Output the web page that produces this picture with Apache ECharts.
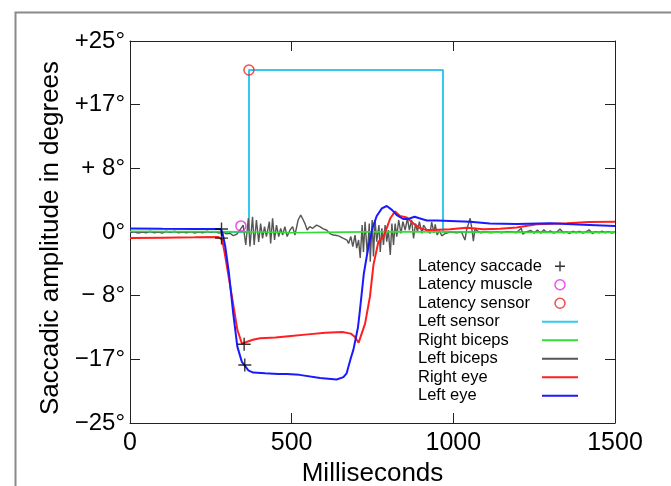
<!DOCTYPE html>
<html>
<head>
<meta charset="utf-8">
<script src="https://cdn.jsdelivr.net/npm/echarts@6/dist/echarts.min.js"></script>
<style>
  html, body { margin: 0; padding: 0; background: #fff; }
  #main { width: 671px; height: 486px; }
</style>
</head>
<body>
<div id="main"></div>
<script>
// tick labels of the y axis, from -25 to +25
var yTickLabels = ['\u221225\u00b0', '\u221217\u00b0', '\u2212 8\u00b0', '0\u00b0', '+ 8\u00b0', '+17\u00b0', '+25\u00b0'];
var xTicks = [0, 500, 1000, 1500];

// [ms, degrees]
var leftSensor = [[0, 0], [368, 0], [368, 21.2], [968, 21.2], [968, 0], [1500, 0]];
var rightBiceps = [[0, 0.1], [150, 0.05], [280, 0.05], [400, 0], [500, -0.1], [600, -0.05], [800, 0.05], [1000, 0], [1250, -0.05], [1500, -0.05]];
var leftBiceps = [
  [0, -0.1], [12, 0.05], [25, -0.15], [38, 0.0], [50, -0.1], [62, 0.1], [75, -0.1], [88, 0.0], [100, -0.15],
  [112, 0.1], [125, -0.05], [138, 0.1], [150, -0.1], [162, 0.0], [175, -0.1], [188, 0.05], [200, -0.15],
  [212, 0.0], [225, -0.1], [238, 0.1], [250, -0.05], [262, 0.05], [275, -0.15], [288, 0.0], [298, -0.25],
  [309, -0.17], [319, -0.48], [330, -0.3], [340, 0.26], [350, 0.9], [358, -1.7], [366, 1.8], [371, -1.9],
  [379, 2.0], [384, -1.7], [391, 1.57], [398, -1.3], [404, 1.1], [410, -0.83], [416, 0.7], [422, -0.6],
  [431, 1.35], [435, -1.5], [441, 1.8], [447, -1.05], [453, 0.9], [460, -0.6], [466, 0.48], [472, -0.4],
  [479, 0.7], [486, -0.6], [495, 0.26], [503, 0.7], [510, -0.4], [520, 1.57], [528, 2.2], [536, 1.57],
  [541, 1.1], [548, 0.26], [556, 0.7], [565, 0.48], [577, 0.9], [587, 0.7], [598, 0.4], [608, 0.26],
  [618, -0.2], [629, -0.4], [640, -0.45], [650, -0.6], [660, -0.83], [671, -1.05], [676, -1.5], [683, -0.6],
  [689, -1.9], [696, -0.4], [701, -2.1], [707, -1.05], [712, -3.4], [718, 0.9], [722, -2.6], [727, 1.35],
  [734, -3.0], [740, 1.1], [743, -3.9], [749, 1.57], [753, -3.2], [758, 1.57], [763, -1.26], [770, 0.9],
  [774, -2.6], [779, 0.48], [784, -1.7], [789, 0.9], [794, -1.26], [799, 0.26], [805, -3.0], [810, 1.1],
  [815, -1.7], [820, 1.1], [825, -0.6], [831, 1.57], [838, -0.17], [844, 1.35], [851, 0.26], [858, 1.8],
  [864, 0.26], [871, 1.57], [877, -0.83], [883, 1.1], [889, 0.04], [895, 1.35], [903, -0.17], [908, 0.9],
  [918, 0.26], [928, -0.17], [933, 1.3], [940, -0.1], [944, 1.0], [950, -0.4], [957, 0.2], [964, -0.5],
  [975, -0.2], [990, 0.0], [1010, -0.1], [1025, 0.0], [1030, -0.2], [1036, -1.05], [1041, 0.26], [1047, 1.1],
  [1052, 1.8], [1057, 0.5], [1062, -1.2], [1067, 0.5], [1072, 0.2], [1085, -0.1], [1100, 0.0], [1115, -0.1],
  [1135, 0.0], [1150, -0.1], [1165, 0.05], [1180, 0.0], [1195, -0.1], [1210, 0.5], [1215, -0.3], [1225, 0.0],
  [1240, 0.2], [1250, -0.15], [1260, 0.25], [1270, -0.15], [1280, 0.3], [1290, -0.1], [1300, 0.15], [1310, -0.15],
  [1320, 0.0], [1330, 0.4], [1340, -0.1], [1350, 0.0], [1360, -0.2], [1370, 0.1], [1380, -0.1], [1390, 0.1],
  [1400, -0.15], [1410, 0.0], [1420, 0.3], [1430, -0.2], [1440, 0.05], [1450, -0.1], [1460, 0.1], [1470, -0.1],
  [1480, 0.05], [1490, -0.15], [1500, 0.0]
];
var rightEye = [
  [0, -0.8], [100, -0.75], [200, -0.7], [272, -0.65], [285, -1.0], [293, -2.8], [312, -7.6], [332, -12.8],
  [346, -14.6], [360, -14.4], [380, -14.1], [402, -13.9], [450, -13.8], [498, -13.6], [550, -13.4], [604, -13.2],
  [657, -13.1], [683, -13.3], [695, -13.7], [707, -14.5], [715, -13.5], [727, -12.0], [742, -8.5], [753, -4.3],
  [768, -1.3], [784, -0.6], [794, 0.5], [805, 1.8], [820, 2.7], [835, 2.1], [856, 1.9], [877, 1.1], [897, 0.5],
  [918, 0.25], [938, 0.25], [990, 0.35], [1041, 0.57], [1093, 0.35], [1144, 0.44], [1196, 0.6], [1258, 1.0],
  [1351, 1.14], [1420, 1.3], [1500, 1.35]
];
var leftEye = [
  [0, 0.45], [100, 0.42], [200, 0.4], [280, 0.4], [286, -0.1], [295, -2.0], [306, -5.4], [319, -10.6],
  [332, -15.0], [346, -17.0], [355, -17.5], [366, -18.1], [381, -18.4], [418, -18.5], [458, -18.6], [485, -18.6],
  [524, -18.7], [588, -19.1], [639, -19.3], [660, -19.0], [670, -18.5], [683, -16.5], [691, -15.4], [705, -12.5],
  [711, -10.3], [723, -5.5], [737, -2.0], [750, 0.5], [763, 2.1], [779, 3.1], [794, 3.4], [810, 2.9], [825, 2.2],
  [845, 1.7], [860, 1.7], [880, 2.0], [895, 1.8], [918, 1.5], [950, 1.5], [990, 1.44], [1052, 1.35], [1113, 1.1],
  [1196, 1.05], [1299, 1.14], [1402, 0.96], [1500, 0.8]
];
var latencySaccade = [[283, 0.4], [283, -0.8], [353, -14.7], [355, -17.4]];
var latencyMuscle = [[343, 0.8]];
var latencySensor = [[368, 21.2]];

var font = 'Liberation Sans, Arial, sans-serif';
var crossPath = 'path://M0,5L10,5M5,0L5,10';
// 36x10 box with a 2px bar in the middle, for line items of the legend
var barIcon = 'path://M0,0M36,10M0,4L36,4L36,6L0,6Z';

var myChart = echarts.init(document.getElementById('main'));

function lineSeries(name, data, color, width) {
  return {
    name: name, type: 'line', data: data, symbol: 'none', smooth: false,
    lineStyle: { color: color, width: width }, itemStyle: { color: color },
    emphasis: { disabled: true }, animation: false
  };
}

function frameAxis(pos, isX) {
  var a = {
    type: 'value', position: pos,
    axisLine: { show: true, onZero: false, lineStyle: { color: '#222', width: 1 } },
    axisTick: { show: true, inside: true, length: 10, lineStyle: { color: '#222' } },
    axisLabel: { show: false }, splitLine: { show: false }
  };
  if (isX) { a.min = 0; a.max = 1500; a.interval = 500; }
  else { a.min = -25; a.max = 25; a.interval = 25 / 3; }
  return a;
}

var bottomAxis = frameAxis('bottom', true);
bottomAxis.name = 'Milliseconds';
bottomAxis.nameLocation = 'middle';
bottomAxis.nameGap = 38;
bottomAxis.nameTextStyle = { fontFamily: font, fontSize: 26, color: '#000' };
bottomAxis.axisLabel = { show: true, fontFamily: font, fontSize: 25, color: '#000', margin: 8,
  formatter: function (v) { return xTicks.indexOf(v) >= 0 ? String(v) : ''; } };

var leftAxis = frameAxis('left', false);
leftAxis.name = 'Saccadic amplitude in degrees';
leftAxis.nameLocation = 'middle';
leftAxis.nameGap = 60;
leftAxis.nameRotate = 90;
leftAxis.nameTextStyle = { fontFamily: font, fontSize: 26, color: '#000', padding: [0, 12, 0, 0] };
leftAxis.axisLabel = { show: true, fontFamily: font, fontSize: 24, color: '#000', margin: 5,
  formatter: function (v) { return yTickLabels[Math.round(v / (25 / 3)) + 3]; } };

var option = {
  animation: false,
  grid: { left: 130, right: 56, top: 41, bottom: 63, containLabel: false, outerBoundsMode: 'none' },
  graphic: [{
    type: 'rect', left: 13, top: 10, silent: true,
    shape: { width: 657, height: 500 },
    style: { fill: 'none', stroke: '#8a8a8a', lineWidth: 2 }
  }],
  legend: {
    orient: 'vertical', left: 418, top: 257, align: 'right', padding: 0,
    itemWidth: 36, itemHeight: 10, itemGap: 0, symbolKeepAspect: true,
    formatter: function (name) { return '{t|' + name + '}'; },
    textStyle: {
      fontFamily: font, fontSize: 16.5, color: '#000', lineHeight: 18.5,
      rich: { t: { fontFamily: font, fontSize: 16.5, color: '#000', width: 119, align: 'left', lineHeight: 18.5 } }
    },
    selectedMode: false,
    data: [
      { name: 'Latency saccade', icon: crossPath, itemStyle: { color: 'none', borderColor: '#000', borderWidth: 1.4 } },
      { name: 'Latency muscle', icon: 'circle', itemStyle: { color: 'none', borderColor: '#ee22ee', borderWidth: 1.5 } },
      { name: 'Latency sensor', icon: 'circle', itemStyle: { color: 'none', borderColor: '#ee2222', borderWidth: 1.5 } },
      { name: 'Left sensor', icon: barIcon },
      { name: 'Right biceps', icon: barIcon },
      { name: 'Left biceps', icon: barIcon },
      { name: 'Right eye', icon: barIcon },
      { name: 'Left eye', icon: barIcon }
    ]
  },
  xAxis: [bottomAxis, frameAxis('top', true)],
  yAxis: [leftAxis, frameAxis('right', false)],
  series: [
    lineSeries('Left sensor', leftSensor, '#35c8ee', 2),
    lineSeries('Left biceps', leftBiceps, '#555555', 1.4),
    lineSeries('Right biceps', rightBiceps, '#33dd33', 1.6),
    lineSeries('Right eye', rightEye, '#ff1f1f', 2),
    lineSeries('Left eye', leftEye, '#1a1aff', 2),
    {
      name: 'Latency saccade', type: 'scatter', data: latencySaccade, symbol: crossPath, symbolSize: 13,
      itemStyle: { color: 'none', borderColor: '#000', borderWidth: 1.4 }, z: 5, silent: true
    },
    {
      name: 'Latency muscle', type: 'scatter', data: latencyMuscle, symbol: 'circle', symbolSize: 10,
      itemStyle: { color: 'none', borderColor: '#ee22ee', borderWidth: 1.5 }, z: 5, silent: true
    },
    {
      name: 'Latency sensor', type: 'scatter', data: latencySensor, symbol: 'circle', symbolSize: 10,
      itemStyle: { color: 'none', borderColor: '#ee2222', borderWidth: 1.5 }, z: 5, silent: true
    }
  ]
};
myChart.setOption(option);
</script>
</body>
</html>
